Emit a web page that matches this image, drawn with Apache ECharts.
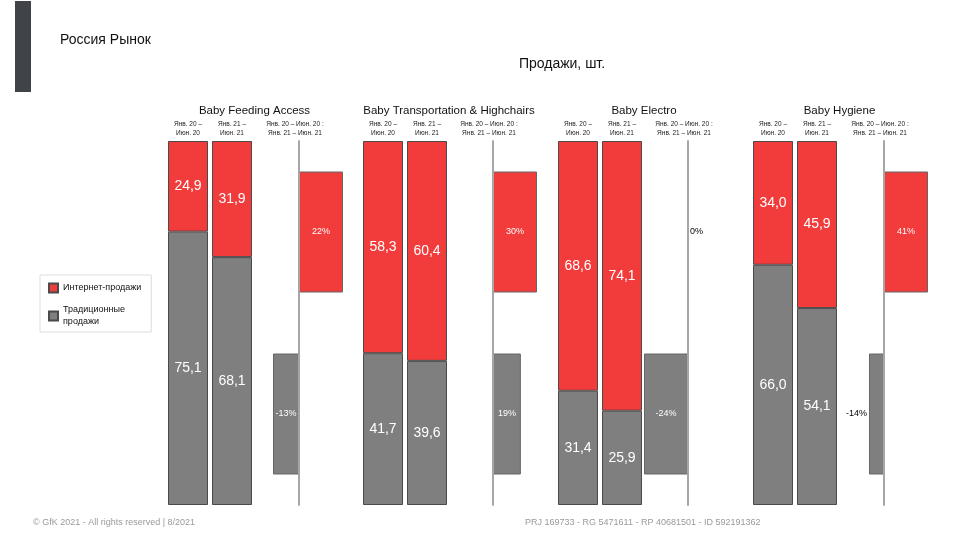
<!DOCTYPE html>
<html>
<head>
<meta charset="utf-8">
<script src="https://cdn.jsdelivr.net/npm/echarts@6/dist/echarts.min.js"></script>
<style>
  html, body { margin: 0; padding: 0; background: #fff; }
  #chart { width: 960px; height: 540px; }
</style>
</head>
<body>
<div id="chart"></div>
<script>
// data
const categories = ['Baby Feeding Access', 'Baby Transportation & Highchairs', 'Baby Electro', 'Baby Hygiene']
const periodLabels = ['Янв. 20 –\nИюн. 20', 'Янв. 21 –\nИюн. 21']
const changeLabel = 'Янв. 20 – Июн. 20 :\nЯнв. 21 – Июн. 21'
const online20 = [24.9, 58.3, 68.6, 34.0]
const online21 = [31.9, 60.4, 74.1, 45.9]
const offline20 = [75.1, 41.7, 31.4, 66.0]
const offline21 = [68.1, 39.6, 25.9, 54.1]
const onlineChange = [22, 30, 0, 41]
const offlineChange = [-13, 19, -24, -14]

const RED = '#f23b3b'
const GREY = '#7f7f7f'
const FONT = 'Liberation Sans, Arial, sans-serif'

// layout
const barLeft = [166, 361, 556, 751]
const zeroX = [299, 493, 688, 884]
const gridTop = 141
const gridH = 364
const half = 44

const fmt = v => v.toFixed(1).replace('.', ',')

const grids = []
const xAxes = []
const yAxes = []
const series = []
const graphics = []

categories.forEach((cat, i) => {
  // stacked share bars
  grids.push({ left: barLeft[i], top: gridTop, width: 88, height: gridH })
  const idx = grids.length - 1
  xAxes.push({
    gridIndex: idx,
    type: 'category',
    position: 'top',
    data: periodLabels,
    axisLine: { show: false },
    axisTick: { show: false },
    axisLabel: { fontSize: 6.5, lineHeight: 9, color: '#222', margin: 3, fontFamily: FONT }
  })
  yAxes.push({ gridIndex: idx, type: 'value', min: 0, max: 100, show: false })
  series.push({
    name: 'Традиционные продажи',
    type: 'bar',
    stack: 's' + i,
    xAxisIndex: idx,
    yAxisIndex: idx,
    barWidth: 40,
    data: [offline20[i], offline21[i]],
    itemStyle: { color: GREY, borderColor: '#4a4a4a', borderWidth: 1 },
    label: { show: true, position: 'inside', color: '#fff', fontSize: 14, fontFamily: FONT, formatter: p => fmt(p.value) }
  })
  series.push({
    name: 'Интернет-продажи',
    type: 'bar',
    stack: 's' + i,
    xAxisIndex: idx,
    yAxisIndex: idx,
    barWidth: 40,
    data: [online20[i], online21[i]],
    itemStyle: { color: RED, borderColor: '#4a4a4a', borderWidth: 1 },
    label: { show: true, position: 'inside', color: '#fff', fontSize: 14, fontFamily: FONT, formatter: p => fmt(p.value) }
  })

  // change bars
  const m = Math.max(Math.abs(onlineChange[i]), Math.abs(offlineChange[i]))
  grids.push({ left: zeroX[i] - half, top: gridTop, width: half * 2, height: gridH })
  const cidx = grids.length - 1
  xAxes.push({ gridIndex: cidx, type: 'value', min: -m, max: m, show: false })
  yAxes.push({
    gridIndex: cidx,
    type: 'category',
    inverse: true,
    z: 5,
    data: ['online', 'offline'],
    axisLine: { show: true, onZero: true, lineStyle: { color: '#a6a6a6', width: 2 } },
    axisTick: { show: false },
    axisLabel: { show: false }
  })
  const item = (v, color) => {
    const w = Math.abs(v) / m * half
    const inside = w >= 22
    return {
      value: v,
      itemStyle: { color: color, borderWidth: v === 0 ? 0 : 1 },
      label: {
        position: inside ? 'inside' : (v < 0 ? 'left' : 'right'),
        color: inside ? '#fff' : '#000',
        distance: 2
      }
    }
  }
  series.push({
    type: 'bar',
    xAxisIndex: cidx,
    yAxisIndex: cidx,
    barWidth: 121,
    data: [item(onlineChange[i], RED), item(offlineChange[i], GREY)],
    itemStyle: { borderColor: '#666', borderWidth: 1 },
    label: { show: true, fontSize: 9, fontFamily: FONT, formatter: p => p.value + '%' }
  })

  // headers
  graphics.push({
    type: 'text',
    x: (barLeft[i] + zeroX[i] + half) / 2,
    y: 105,
    style: { text: cat, align: 'center', font: '11.5px ' + FONT, fill: '#111' }
  })
  graphics.push({
    type: 'text',
    x: zeroX[i] - 4,
    y: 120,
    style: { text: changeLabel, align: 'center', font: '6.5px ' + FONT, lineHeight: 9, fill: '#222' }
  })
})

graphics.push(
  { type: 'rect', shape: { x: 15, y: 1, width: 16, height: 91 }, style: { fill: '#404348' } },
  { type: 'text', x: 60, y: 33, style: { text: 'Россия Рынок', font: '14px ' + FONT, fill: '#111' } },
  { type: 'text', x: 562, y: 57, style: { text: 'Продажи, шт.', align: 'center', font: '14px ' + FONT, fill: '#111' } },
  { type: 'text', x: 33, y: 518, style: { text: '© GfK 2021 - All rights reserved | 8/2021', font: '9px ' + FONT, fill: '#9a9a9a' } },
  { type: 'text', x: 525, y: 518, style: { text: 'PRJ 169733 - RG 5471611 - RP 40681501 - ID 592191362', font: '9px ' + FONT, fill: '#9a9a9a' } }
)

const chart = echarts.init(document.getElementById('chart'))
chart.setOption({
  animation: false,
  textStyle: { fontFamily: FONT },
  legend: {
    data: ['Интернет-продажи', 'Традиционные продажи'],
    orient: 'vertical',
    left: 40,
    top: 275,
    itemWidth: 9,
    itemHeight: 9,
    itemGap: 10,
    padding: [7, 10, 4, 8],
    borderColor: '#dddddd',
    borderWidth: 1,
    icon: 'rect',
    selectedMode: false,
    formatter: name => name === 'Традиционные продажи' ? 'Традиционные\nпродажи' : name,
    textStyle: { fontSize: 9, lineHeight: 12, color: '#111' }
  },
  grid: grids,
  xAxis: xAxes,
  yAxis: yAxes,
  series: series,
  graphic: graphics
})
</script>
</body>
</html>
